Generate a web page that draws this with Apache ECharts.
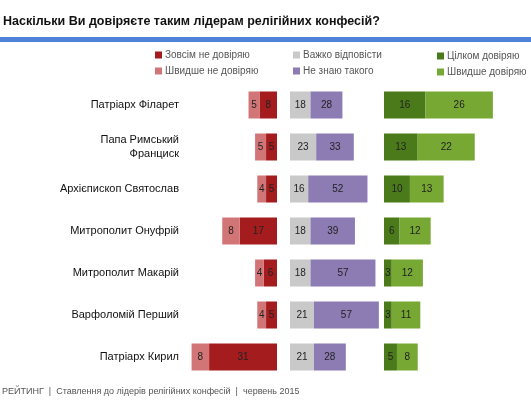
<!DOCTYPE html><html><head><meta charset="utf-8"><script src="https://cdn.jsdelivr.net/npm/echarts@6/dist/echarts.min.js"></script>
<style>html,body{margin:0;padding:0;background:#fff}#c{width:531px;height:404px}</style></head><body><div id="c"></div><script>
const categories=['Патріарх Філарет','Папа Римський\nФранциск','Архієпископ Святослав','Митрополит Онуфрій','Митрополит Макарій','Варфоломій Перший','Патріарх Кирил'];
const fullyDistrust=[8,5,5,17,6,5,31];
const ratherDistrust=[5,5,4,8,4,4,8];
const hardToSay=[18,23,16,18,18,21,21];
const dontKnow=[28,33,52,39,57,57,28];
const fullyTrust=[16,13,10,6,3,3,5];
const ratherTrust=[26,22,13,12,12,11,8];
const C={dr:'#a51c1e',lr:'#d27577',g:'#c9c9c9',p:'#8d7bb4',dg:'#4b7a1b',lg:'#77a833'};
const F='Liberation Sans';
const lab={show:true,color:'#222',fontSize:10,fontFamily:F};
function s(name,data,color,idx,stack){return {name,type:'bar',stack,data,xAxisIndex:idx,yAxisIndex:idx,barWidth:27,itemStyle:{color},label:lab,emphasis:{disabled:true}};}
const grids=[{left:185,width:92},{left:290,width:90},{left:384,width:140}].map(g=>({...g,top:84,height:294}));
const maxes=[42,79,54];
const opt={animation:false,
grid:grids,
xAxis:maxes.map((m,i)=>({gridIndex:i,type:'value',min:0,max:m,inverse:i===0,show:false})),
yAxis:[0,1,2].map(i=>({gridIndex:i,type:'category',data:categories,inverse:true,axisLine:{show:false},axisTick:{show:false},axisLabel:{show:i===0,margin:6,color:'#111',fontSize:11,fontFamily:F,lineHeight:14,align:'right'}})),
legend:[
{left:150,top:45,orient:'vertical',itemGap:6,data:['Зовсім не довіряю','Швидше не довіряю']},
{left:288,top:45,orient:'vertical',itemGap:6,data:['Важко відповісти','Не знаю такого']},
{left:432,top:46,orient:'vertical',itemGap:6,data:['Цілком довіряю','Швидше довіряю']}].map(l=>({...l,itemWidth:7,itemHeight:7,itemGap:6,icon:'rect',textStyle:{fontSize:10,color:'#555',fontFamily:F,padding:[0,0,0,-2]},selectedMode:false})),
series:[s('Зовсім не довіряю',fullyDistrust,C.dr,0,'a'),s('Швидше не довіряю',ratherDistrust,C.lr,0,'a'),
s('Важко відповісти',hardToSay,C.g,1,'b'),s('Не знаю такого',dontKnow,C.p,1,'b'),
s('Цілком довіряю',fullyTrust,C.dg,2,'c'),s('Швидше довіряю',ratherTrust,C.lg,2,'c')],
graphic:[
{type:'text',left:3,top:15,style:{text:'Наскільки Ви довіряєте таким лідерам релігійних конфесій?',font:'bold 12.5px Liberation Sans',fill:'#111'}},
{type:'rect',shape:{x:0,y:37,width:531,height:5},style:{fill:'#4f83d9'}},
{type:'text',left:2,top:387,style:{text:'РЕЙТИНГ  |  Ставлення до лідерів релігійних конфесій  |  червень 2015',font:'9px Liberation Sans',fill:'#555'}}]
};
echarts.init(document.getElementById('c')).setOption(opt);
</script></body></html>
